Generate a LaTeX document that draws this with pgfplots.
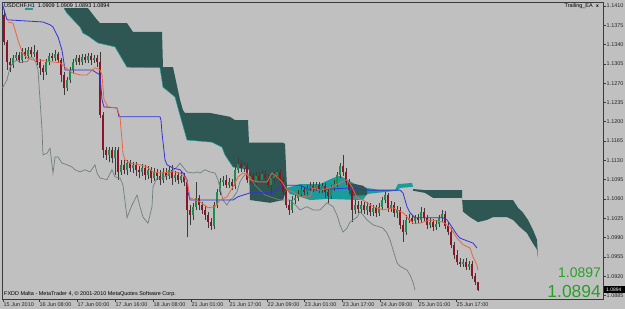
\documentclass[border=0pt]{standalone}
\usepackage{pgfplots}
\usepackage{pgfplotstable}
\pgfplotsset{compat=1.18}
\usepackage{fontspec}
\setmainfont{Liberation Sans}
\definecolor{bg}{HTML}{C0C0C0}
\definecolor{frame}{HTML}{3A3A3A}
\definecolor{cloud}{HTML}{2E5652}
\definecolor{cloudc}{HTML}{1A9C9C}
\definecolor{kij}{HTML}{3232DC}
\definecolor{ten}{HTML}{F0643C}
\definecolor{chik}{HTML}{6F7F7F}
\definecolor{bull}{HTML}{1E8C4E}
\definecolor{bear}{HTML}{8C1428}
\definecolor{wick}{HTML}{3C3C3C}
\definecolor{biggreen}{HTML}{28A028}
\newcommand{\tk}{\fontsize{5.5}{6}\selectfont}

\pgfplotstableread{
x o h l c
4 1.1394 1.1403 1.1339 1.1345
7 1.1345 1.1348 1.1294 1.1309
10 1.1309 1.1316 1.1290 1.1303
13 1.1303 1.1321 1.1298 1.1316
16 1.1316 1.1327 1.1310 1.1321
19 1.1321 1.1327 1.1307 1.1312
22 1.1312 1.1334 1.1307 1.1327
25 1.1327 1.1334 1.1314 1.1319
28 1.1319 1.1336 1.1314 1.1330
31 1.1330 1.1336 1.1318 1.1323
34 1.1323 1.1339 1.1318 1.1327
37 1.1327 1.1330 1.1303 1.1309
40 1.1309 1.1314 1.1285 1.1298
43 1.1298 1.1303 1.1276 1.1290
46 1.1290 1.1314 1.1285 1.1309
49 1.1309 1.1325 1.1303 1.1319
52 1.1319 1.1325 1.1310 1.1316
55 1.1316 1.1330 1.1310 1.1323
58 1.1323 1.1327 1.1307 1.1312
61 1.1312 1.1316 1.1272 1.1285
64 1.1285 1.1290 1.1249 1.1261
67 1.1261 1.1281 1.1256 1.1276
70 1.1276 1.1299 1.1270 1.1294
73 1.1294 1.1314 1.1289 1.1309
76 1.1309 1.1321 1.1303 1.1316
79 1.1316 1.1321 1.1303 1.1309
82 1.1309 1.1323 1.1303 1.1318
85 1.1318 1.1323 1.1307 1.1312
88 1.1312 1.1325 1.1307 1.1319
91 1.1319 1.1325 1.1303 1.1312
94 1.1312 1.1321 1.1307 1.1316
97 1.1316 1.1321 1.1299 1.1309
100 1.1309 1.1327 1.1207 1.1212
103 1.1212 1.1218 1.1134 1.1149
106 1.1149 1.1154 1.1131 1.1140
109 1.1140 1.1154 1.1127 1.1149
112 1.1149 1.1154 1.1125 1.1134
115 1.1134 1.1154 1.1104 1.1149
118 1.1149 1.1154 1.1095 1.1109
121 1.1109 1.1131 1.1104 1.1122
124 1.1122 1.1131 1.1105 1.1113
127 1.1113 1.1131 1.1104 1.1125
130 1.1125 1.1131 1.1109 1.1116
133 1.1116 1.1127 1.1107 1.1122
136 1.1122 1.1127 1.1102 1.1113
139 1.1113 1.1120 1.1098 1.1109
142 1.1109 1.1123 1.1102 1.1116
145 1.1116 1.1122 1.1095 1.1104
148 1.1104 1.1120 1.1096 1.1113
151 1.1113 1.1118 1.1089 1.1098
154 1.1098 1.1116 1.1093 1.1109
157 1.1109 1.1114 1.1095 1.1102
160 1.1102 1.1113 1.1085 1.1095
163 1.1095 1.1116 1.1089 1.1109
166 1.1109 1.1116 1.1095 1.1102
169 1.1102 1.1120 1.1096 1.1113
172 1.1113 1.1122 1.1085 1.1098
175 1.1098 1.1111 1.1091 1.1104
178 1.1104 1.1109 1.1087 1.1095
181 1.1095 1.1109 1.1089 1.1102
184 1.1102 1.1107 1.1084 1.1091
187 1.1091 1.1095 1.0991 1.1040
190 1.1040 1.1049 1.1013 1.1031
193 1.1031 1.1053 1.1022 1.1046
196 1.1046 1.1091 1.1040 1.1062
199 1.1062 1.1067 1.1040 1.1049
202 1.1049 1.1055 1.1033 1.1040
205 1.1040 1.1047 1.1022 1.1031
208 1.1031 1.1037 1.1007 1.1018
211 1.1018 1.1026 1.1004 1.1011
214 1.1011 1.1055 1.1005 1.1049
217 1.1049 1.1078 1.1044 1.1073
220 1.1073 1.1098 1.1067 1.1091
223 1.1091 1.1102 1.1084 1.1095
226 1.1095 1.1104 1.1080 1.1085
229 1.1085 1.1098 1.1080 1.1091
232 1.1091 1.1096 1.1076 1.1084
235 1.1084 1.1118 1.1078 1.1113
238 1.1113 1.1136 1.1107 1.1123
241 1.1123 1.1131 1.1109 1.1116
244 1.1116 1.1127 1.1109 1.1120
247 1.1120 1.1125 1.1089 1.1095
250 1.1095 1.1109 1.1087 1.1102
253 1.1102 1.1107 1.1085 1.1091
256 1.1091 1.1109 1.1085 1.1102
259 1.1102 1.1109 1.1089 1.1095
262 1.1095 1.1113 1.1089 1.1105
265 1.1105 1.1113 1.1091 1.1098
268 1.1098 1.1105 1.1080 1.1085
271 1.1085 1.1104 1.1067 1.1098
274 1.1098 1.1109 1.1091 1.1102
277 1.1102 1.1114 1.1096 1.1109
280 1.1109 1.1114 1.1089 1.1095
283 1.1095 1.1100 1.1067 1.1073
286 1.1073 1.1078 1.1044 1.1049
289 1.1049 1.1058 1.1031 1.1040
292 1.1040 1.1066 1.1035 1.1058
295 1.1058 1.1067 1.1051 1.1062
298 1.1062 1.1076 1.1056 1.1069
301 1.1069 1.1084 1.1064 1.1076
304 1.1076 1.1082 1.1067 1.1073
307 1.1073 1.1085 1.1067 1.1080
310 1.1080 1.1091 1.1075 1.1084
313 1.1084 1.1091 1.1073 1.1080
316 1.1080 1.1091 1.1075 1.1085
319 1.1085 1.1091 1.1071 1.1076
322 1.1076 1.1089 1.1071 1.1084
325 1.1084 1.1089 1.1062 1.1073
328 1.1073 1.1080 1.1053 1.1066
331 1.1066 1.1085 1.1060 1.1080
334 1.1080 1.1095 1.1075 1.1087
337 1.1087 1.1109 1.1082 1.1104
340 1.1104 1.1125 1.1098 1.1120
343 1.1120 1.1140 1.1102 1.1109
346 1.1109 1.1116 1.1085 1.1091
349 1.1091 1.1096 1.1069 1.1076
352 1.1076 1.1084 1.1018 1.1040
355 1.1040 1.1058 1.1033 1.1049
358 1.1049 1.1056 1.1035 1.1042
361 1.1042 1.1056 1.1035 1.1049
364 1.1049 1.1055 1.1033 1.1040
367 1.1040 1.1055 1.1031 1.1047
370 1.1047 1.1053 1.1029 1.1037
373 1.1037 1.1049 1.1029 1.1044
376 1.1044 1.1049 1.1027 1.1035
379 1.1035 1.1053 1.1029 1.1046
382 1.1046 1.1064 1.1040 1.1058
385 1.1058 1.1073 1.1053 1.1067
388 1.1067 1.1071 1.1037 1.1044
391 1.1044 1.1056 1.1037 1.1049
394 1.1049 1.1055 1.1027 1.1035
397 1.1035 1.1047 1.1026 1.1040
400 1.1040 1.1046 1.1005 1.1013
403 1.1013 1.1022 1.0982 1.1000
406 1.1000 1.1031 1.0995 1.1022
409 1.1022 1.1033 1.1016 1.1026
412 1.1026 1.1031 1.1015 1.1020
415 1.1020 1.1031 1.1015 1.1026
418 1.1026 1.1033 1.1016 1.1022
421 1.1022 1.1046 1.1016 1.1037
424 1.1037 1.1044 1.1020 1.1026
427 1.1026 1.1031 1.1005 1.1013
430 1.1013 1.1026 1.1007 1.1018
433 1.1018 1.1024 1.1002 1.1009
436 1.1009 1.1022 1.1004 1.1015
439 1.1015 1.1031 1.1009 1.1026
442 1.1026 1.1040 1.1018 1.1033
445 1.1033 1.1038 1.1005 1.1011
448 1.1011 1.1018 1.0995 1.1000
451 1.1000 1.1007 1.0971 1.0977
454 1.0977 1.0982 1.0951 1.0958
457 1.0958 1.0968 1.0940 1.0946
460 1.0946 1.0953 1.0937 1.0942
463 1.0942 1.0951 1.0937 1.0946
466 1.0946 1.0953 1.0931 1.0937
469 1.0937 1.0948 1.0931 1.0942
472 1.0942 1.0948 1.0915 1.0920
475 1.0920 1.0926 1.0904 1.0909
478 1.0909 1.0909 1.0893 1.0894
}\candles

\pgfplotstableread{
x y
2 1.1416
7 1.1385
43 1.1381
50 1.1376
53 1.1372
58 1.1354
62 1.1330
65 1.1294
92 1.1294
100 1.1285
102 1.1240
104 1.1227
117 1.1225
119 1.1209
160 1.1209
161 1.1203
162 1.1180
165 1.1131
167 1.1122
173 1.1116
180 1.1113
183 1.1107
187 1.1095
188 1.1073
190 1.1058
233 1.1058
238 1.1064
250 1.1071
272 1.1071
283 1.1085
300 1.1085
310 1.1076
350 1.1080
367 1.1076
400 1.1076
403 1.1071
407 1.1046
410 1.1035
415 1.1026
443 1.1026
447 1.1022
452 1.1009
457 1.0995
460 1.0989
467 1.0984
473 1.0980
477 1.0971
}\kijun

\pgfplotstableread{
x y
8 1.1381
13 1.1379
15 1.1367
18 1.1348
22 1.1327
27 1.1316
33 1.1312
40 1.1312
50 1.1309
60 1.1307
66 1.1298
72 1.1289
80 1.1285
87 1.1285
90 1.1290
95 1.1298
100 1.1294
102 1.1285
104 1.1240
108 1.1227
117 1.1225
120 1.1209
122 1.1167
123 1.1143
125 1.1131
130 1.1125
140 1.1122
147 1.1118
153 1.1109
160 1.1107
173 1.1109
180 1.1107
187 1.1095
190 1.1062
200 1.1055
208 1.1044
215 1.1046
220 1.1058
227 1.1064
233 1.1082
238 1.1100
243 1.1107
247 1.1104
250 1.1095
257 1.1091
267 1.1091
272 1.1107
277 1.1100
282 1.1091
287 1.1076
293 1.1073
300 1.1064
310 1.1064
313 1.1080
320 1.1076
330 1.1080
340 1.1089
347 1.1095
352 1.1082
357 1.1062
363 1.1058
373 1.1046
383 1.1040
393 1.1044
403 1.1035
413 1.1016
420 1.1016
430 1.1022
443 1.1018
450 1.1009
457 1.0989
463 1.0977
470 1.0971
473 1.0955
477 1.0940
478 1.0931
}\tenkan

\pgfplotstableread{
x y
2 1.1261
3 1.1263
7 1.1276
10 1.1299
13 1.1307
17 1.1312
20 1.1307
23 1.1309
27 1.1309
30 1.1316
33 1.1316
36 1.1307
38 1.1294
40 1.1240
42 1.1185
43 1.1140
47 1.1143
50 1.1152
53 1.1107
55 1.1136
58 1.1136
62 1.1125
67 1.1122
72 1.1118
75 1.1113
80 1.1109
85 1.1113
90 1.1109
95 1.1122
97 1.1107
100 1.1098
107 1.1095
112 1.1113
115 1.1100
120 1.1098
123 1.1085
127 1.1026
132 1.1049
137 1.1067
140 1.1046
143 1.1027
148 1.1016
152 1.1046
153 1.1082
157 1.1098
163 1.1098
170 1.1107
177 1.1118
180 1.1125
183 1.1118
187 1.1109
193 1.1107
197 1.1109
200 1.1107
205 1.1113
210 1.1109
215 1.1107
218 1.1095
223 1.1058
227 1.1049
230 1.1058
233 1.1062
237 1.1073
240 1.1091
243 1.1100
247 1.1107
250 1.1100
255 1.1085
260 1.1076
265 1.1067
270 1.1064
280 1.1058
290 1.1058
297 1.1046
300 1.1040
307 1.1046
313 1.1040
320 1.1040
327 1.1053
333 1.1046
337 1.1031
340 1.1013
343 1.1000
347 1.1007
350 1.1018
357 1.1027
360 1.1037
363 1.1031
367 1.1022
373 1.1013
380 1.1009
383 1.1007
387 1.0998
390 1.0986
393 1.0968
397 1.0944
400 1.0938
403 1.0935
407 1.0931
410 1.0922
413 1.0909
415 1.0895
}\chikou

\begin{document}
\begin{tikzpicture}
\fill[bg] (0,0) rectangle (625bp,309bp);
\begin{axis}[
  at={(2bp,10bp)}, anchor=south west,
  scale only axis, width=601.5bp, height=297bp,
  xmin=2, xmax=603.5, ymin=1.08785, ymax=1.14173,
  clip=true,
  axis line style={draw=frame, line width=0.7bp},
  xtick pos=bottom, ytick pos=right, yticklabel pos=right,
  tick align=outside, major tick length=2.5bp,
  tick style={draw=frame, line width=0.6bp},
  ytick={1.0885,1.0920,1.0955,1.0990,1.1025,1.1060,1.1095,1.1130,1.1165,1.1200,1.1235,1.1270,1.1305,1.1340,1.1375,1.1410},
  yticklabels={1.0885,1.0920,1.0955,1.0990,1.1025,1.1060,1.1095,1.1130,1.1165,1.1200,1.1235,1.1270,1.1305,1.1340,1.1375,1.1410},
  xtick={3,39,77,115,153,191,229,267,304,342,380,418,456},
  xticklabels={15 Jun 2010,16 Jun 08:00,17 Jun 00:00,17 Jun 16:00,18 Jun 08:00,21 Jun 01:00,21 Jun 17:00,22 Jun 09:00,23 Jun 01:00,23 Jun 17:00,24 Jun 09:00,25 Jun 01:00,25 Jun 17:00},
  xticklabel style={font=\tk, anchor=north west, inner sep=0pt, xshift=0.5bp, yshift=-0.5bp, text=black!85},
  yticklabel style={font=\tk, anchor=west, inner sep=0pt, xshift=0.5bp, text=black!85},
]
% cloud
\addplot[fill=cloud, draw=none, forget plot] coordinates {(64,1.1406)(88,1.1406)(97,1.1385)(100,1.1379)(127,1.1379)(133,1.1363)(162,1.1363)(163,1.1299)(173,1.1299)(180,1.1240)(183,1.1221)(185,1.1216)(210,1.1216)(230,1.1209)(235,1.1203)(248,1.1203)(249,1.1162)(283,1.1162)(285,1.1160)(287,1.1080)(283,1.1058)(270,1.1053)(250,1.1058)(249,1.1113)(233,1.1118)(225,1.1140)(222,1.1154)(212,1.1163)(187,1.1167)(185,1.1180)(180,1.1212)(175,1.1245)(163,1.1263)(160,1.1298)(127,1.1299)(115,1.1336)(98,1.1343)(88,1.1356)(83,1.1361)(80,1.1372)(67,1.1397)} -- cycle;
\addplot[draw=cloudc, line width=0.5bp, mark=none, forget plot] coordinates {(64,1.1406)(67,1.1397)(80,1.1372)(83,1.1361)(88,1.1356)(98,1.1343)(115,1.1336)(127,1.1299)(160,1.1298)(163,1.1263)(175,1.1245)(180,1.1212)(185,1.1180)(187,1.1167)(212,1.1163)(222,1.1154)(225,1.1140)(233,1.1118)(249,1.1113)};
\addplot[fill=cloudc, draw=none, forget plot] coordinates {(25,1.1406)(33,1.1406)(33,1.1402)(25,1.1402)} -- cycle;
\addplot[fill=cloudc, draw=none, forget plot] coordinates {(287,1.1080)(300,1.1087)(320,1.1087)(333,1.1098)(340,1.1102)(347,1.1095)(355,1.1087)(367,1.1080)(380,1.1076)(395,1.1076)(398,1.1087)(412,1.1089)(413,1.1082)(400,1.1080)(397,1.1075)(367,1.1069)(363,1.1058)(327,1.1060)(310,1.1058)(300,1.1064)(290,1.1069)(287,1.1076)} -- cycle;
\addplot[fill=cloud, draw=none, forget plot] coordinates {(349,1.1089)(363,1.1084)(367,1.1078)(367,1.1067)(350,1.1066)} -- cycle;
\addplot[fill=cloud, draw=none, forget plot] coordinates {(413,1.1078)(425,1.1076)(462,1.1076)(462,1.1058)(513,1.1058)(518,1.1044)(523,1.1035)(528,1.1022)(533,1.1004)(537,1.0986)(538,1.0953)(537,1.0968)(532,1.0982)(527,1.0998)(520,1.1009)(513,1.1022)(507,1.1027)(493,1.1027)(487,1.1022)(478,1.1018)(470,1.1027)(463,1.1037)(462,1.1062)(433,1.1062)(425,1.1071)(413,1.1075)} -- cycle;
% candles: wicks
\addplot[draw=none, mark=none, forget plot,
  error bars/.cd, y dir=plus, y explicit, error mark=none,
  error bar style={draw=wick, line width=0.6bp}]
  table[x=x, y=l, y error expr=\thisrow{h}-\thisrow{l}] {\candles};
% bull bodies
\addplot[draw=none, mark=none, forget plot,
  restrict expr to domain={\thisrow{c}-\thisrow{o}}{0:1},
  error bars/.cd, y dir=plus, y explicit, error mark=none,
  error bar style={draw=bull, line width=1.9bp}]
  table[x=x, y=o, y error expr=\thisrow{c}-\thisrow{o}] {\candles};
% bear bodies
\addplot[draw=none, mark=none, forget plot,
  restrict expr to domain={\thisrow{o}-\thisrow{c}}{0:1},
  error bars/.cd, y dir=plus, y explicit, error mark=none,
  error bar style={draw=bear, line width=1.9bp}]
  table[x=x, y=c, y error expr=\thisrow{o}-\thisrow{c}] {\candles};
% lines
\addplot[color=chik, line width=0.7bp, mark=none] table[x=x,y=y] {\chikou};
\addplot[color=kij, line width=0.8bp, mark=none] table[x=x,y=y] {\kijun};
\addplot[color=ten, line width=0.8bp, mark=none] table[x=x,y=y] {\tenkan};
\end{axis}
% texts
\node[anchor=west, inner sep=0pt, font=\tk, text=black] at (4bp,303.2bp) {USDCHF,H1 \ 1.0909 1.0909 1.0893 1.0894};
\node[anchor=east, inner sep=0pt, font=\tk, text=black] at (593bp,303.2bp) {Trailing\_EA};
\node[anchor=center, inner sep=0pt, font=\fontsize{5}{5}\bfseries, text=black] at (597.5bp,303.2bp) {x};
\node[anchor=west, inner sep=0pt, font=\tk, text=black] at (4bp,15bp) {FXDD Malta - MetaTrader 4, © 2001-2010 MetaQuotes Software Corp.};
\node[anchor=base east, inner sep=0pt, font=\fontsize{14}{14}\selectfont, text=biggreen] at (601bp,32bp) {1.0897};
\node[anchor=base east, inner sep=0pt, font=\fontsize{17.5}{17.5}\selectfont, text=biggreen] at (601bp,12bp) {1.0894};
\fill[black] (604bp,16bp) rectangle (625bp,22.5bp);
\node[anchor=west, inner sep=0pt, font=\fontsize{5}{5}\selectfont, text=white] at (606bp,19.2bp) {1.0894};
\pgfresetboundingbox
\path (0,0) rectangle (625bp,309bp);
\end{tikzpicture}
\end{document}
